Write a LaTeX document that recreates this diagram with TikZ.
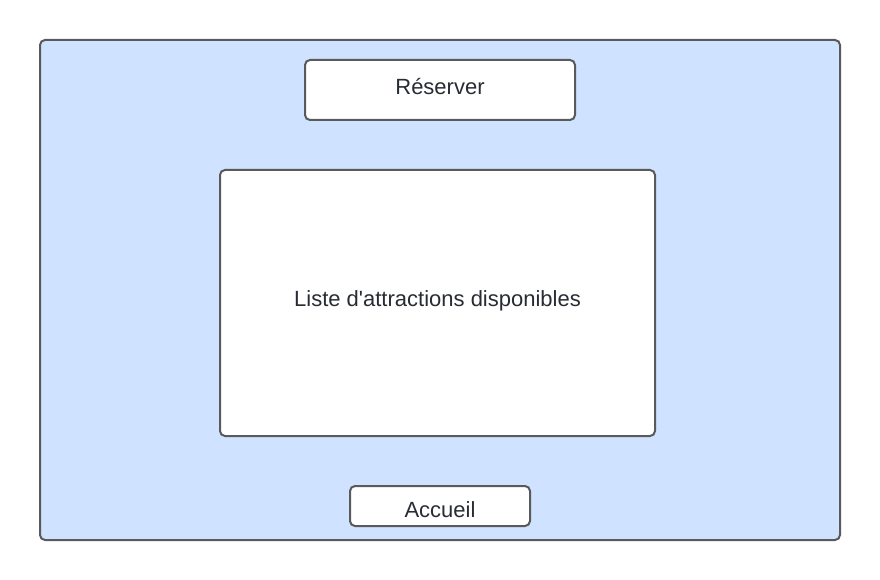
\documentclass[tikz,border=0pt]{standalone}
\usepackage{fontspec}
\setmainfont{Liberation Sans}
\usepackage{tikz}
\usetikzlibrary{positioning}
\definecolor{screenblue}{HTML}{CFE2FF}
\definecolor{edgegray}{HTML}{5A5A5A}
\definecolor{inkgray}{HTML}{282C33}

\tikzset{
    panel/.style={draw=edgegray, line width=2pt, rounded corners=5pt, fill=white,
        text=inkgray, font=\fontsize{22}{26}\selectfont, inner sep=0pt}
}

\begin{document}
\begin{tikzpicture}[x=1pt, y=-1pt]
    \useasboundingbox (0,0) rectangle (880,580);
    % fond de l'ecran
    \draw[draw=edgegray, line width=2pt, rounded corners=5pt, fill=screenblue] (40,40) rectangle (840,540);

    \node[panel, minimum width=270pt, minimum height=60pt] (reserver) at (440,90) {\raisebox{-5pt}[0pt][0pt]{Réserver}};
    \node[panel, minimum width=435pt, minimum height=266pt] (liste) at (437.5,303) {\raisebox{-3pt}[0pt][0pt]{Liste d\textquotesingle attractions disponibles}};
    \node[panel, minimum width=180pt, minimum height=40pt] (accueil) at (440,506) {\raisebox{-11pt}[0pt][0pt]{Accueil}};
\end{tikzpicture}
\end{document}
